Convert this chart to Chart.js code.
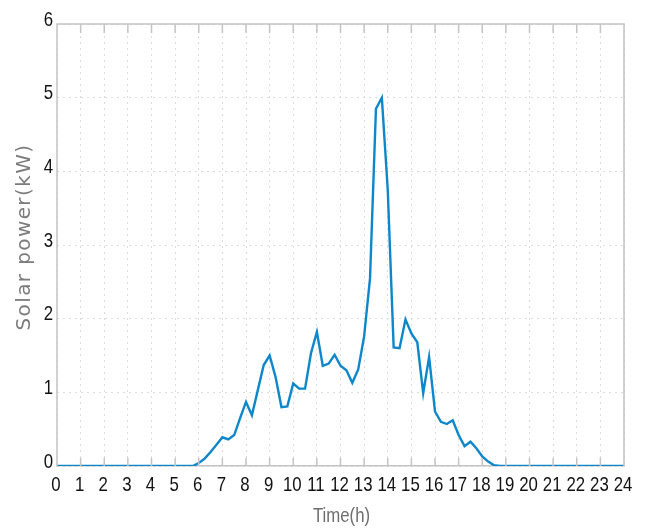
<!DOCTYPE html>
<html>
<head>
<meta charset="utf-8">
<script src="https://cdn.jsdelivr.net/npm/chart.js@4/dist/chart.umd.min.js"></script>
<style>
  html, body { margin: 0; padding: 0; background: #ffffff; }
  #wrap { width: 647px; height: 529px; position: relative; }
</style>
</head>
<body>
<div id="wrap"><canvas id="c"></canvas></div>
<script>
// Solar power output over one day, sampled every 15 minutes (00:00 .. 24:00)
const sampleStepHours = 0.25;
const solarPowerKW = [
  0, 0, 0, 0, 0, 0, 0, 0,             // 0:00 - 1:45
  0, 0, 0, 0, 0, 0, 0, 0,             // 2:00 - 3:45
  0, 0, 0, 0, 0, 0, 0, 0,             // 4:00 - 5:45
  0.04, 0.10, 0.19, 0.29,             // 6:00
  0.39, 0.36, 0.42, 0.65,             // 7:00
  0.87, 0.69, 1.03, 1.37,             // 8:00
  1.50, 1.21, 0.80, 0.81,             // 9:00
  1.12, 1.05, 1.05, 1.53,             // 10:00
  1.82, 1.36, 1.39, 1.51,             // 11:00
  1.36, 1.30, 1.13, 1.31,             // 12:00
  1.76, 2.55, 4.85, 5.00,             // 13:00
  3.75, 1.61, 1.60, 1.99,             // 14:00
  1.80, 1.68, 0.99, 1.48,             // 15:00
  0.74, 0.60, 0.57, 0.62,             // 16:00
  0.42, 0.27, 0.33, 0.24,             // 17:00
  0.13, 0.06, 0.01, 0,                // 18:00
  0, 0, 0, 0, 0, 0, 0, 0,             // 19:00 - 20:45
  0, 0, 0, 0, 0, 0, 0, 0,             // 21:00 - 22:45
  0, 0, 0, 0, 0                       // 23:00 - 24:00
];
const hourTicks = [0,1,2,3,4,5,6,7,8,9,10,11,12,13,14,15,16,17,18,19,20,21,22,23,24];
const powerTicks = [0,1,2,3,4,5,6];
const xTitle = 'Time(h)';
const yTitle = 'Solar power(kW)';

const points = solarPowerKW.map((v, i) => ({ x: i * sampleStepHours, y: v }));

const frameColor = '#c4c4c4';
const gridColor = '#dcdcdc';
const narrowFont = '21px "Liberation Sans", Arial, sans-serif';
const narrowScale = 0.8;   // horizontal squeeze for condensed-looking labels

// Draws text squeezed horizontally around its anchor point
function drawNarrow(ctx, text, x, y, align, color) {
  ctx.save();
  ctx.translate(x, y);
  ctx.scale(narrowScale, 1);
  ctx.font = narrowFont;
  ctx.fillStyle = color;
  ctx.textAlign = align;
  ctx.textBaseline = 'alphabetic';
  ctx.fillText(text, 0, 0);
  ctx.restore();
}

// Box around the plot, short inward tick marks on top/bottom, tick labels and axis titles
const framePlugin = {
  id: 'frame',
  afterDatasetsDraw(chart) {
    const { ctx, chartArea: a, scales } = chart;
    ctx.save();
    ctx.strokeStyle = frameColor;
    ctx.lineWidth = 1.5;
    ctx.beginPath();
    ctx.moveTo(a.left, a.bottom);
    ctx.lineTo(a.left, a.top);
    ctx.lineTo(a.right, a.top);
    ctx.lineTo(a.right, a.bottom);
    ctx.stroke();
    ctx.beginPath();
    hourTicks.forEach(h => {
      if (h === 0 || h === 24) return;
      const px = scales.x.getPixelForValue(h);
      ctx.moveTo(px, a.top);
      ctx.lineTo(px, a.top + 9);
      ctx.moveTo(px, a.bottom);
      ctx.lineTo(px, a.bottom - 8);
    });
    ctx.stroke();
    ctx.restore();

    // tick labels
    hourTicks.forEach(h => {
      const px = scales.x.getPixelForValue(h);
      drawNarrow(ctx, String(h), px - 1, a.bottom + 25, 'center', '#111111');
    });
    powerTicks.forEach(v => {
      const py = scales.y.getPixelForValue(v);
      drawNarrow(ctx, String(v), a.left - 4, py + 1.5, 'right', '#111111');
    });

    // axis titles
    drawNarrow(ctx, xTitle, (a.left + a.right) / 2 + 1, 522, 'center', '#6e6e6e');

    ctx.save();
    ctx.translate(25, 237);
    ctx.rotate(-Math.PI / 2);
    ctx.font = '20px "DejaVu Sans", sans-serif';
    ctx.letterSpacing = '1.4px';
    ctx.fillStyle = '#7c7c7c';
    ctx.textAlign = 'center';
    ctx.textBaseline = 'middle';
    ctx.fillText(yTitle, 0, 0);
    ctx.restore();
  }
};

new Chart(document.getElementById('c'), {
  type: 'line',
  data: {
    datasets: [{
      data: points,
      borderColor: '#0d87c9',
      borderWidth: 2.4,
      pointRadius: 0,
      tension: 0,
      fill: false
    }]
  },
  options: {
    responsive: true,
    maintainAspectRatio: false,
    animation: false,
    layout: { padding: { top: 24, right: 23, left: 0, bottom: 0 } },
    plugins: { legend: { display: false }, tooltip: { enabled: false } },
    scales: {
      x: {
        type: 'linear',
        min: 0, max: 24,
        afterBuildTicks(scale) { scale.ticks = hourTicks.map(v => ({ value: v })); },
        afterFit(scale) { scale.height = 63; },
        ticks: { display: false },
        grid: { color: gridColor, lineWidth: 1, drawTicks: false },
        border: { display: true, color: frameColor, width: 1.5, dash: [2, 4] },
        title: { display: false }
      },
      y: {
        type: 'linear',
        min: 0, max: 6,
        afterBuildTicks(scale) { scale.ticks = powerTicks.map(v => ({ value: v })); },
        afterFit(scale) { scale.width = 57; },
        ticks: { display: false },
        grid: { color: gridColor, lineWidth: 1, drawTicks: false },
        border: { display: false, dash: [2, 4] },
        title: { display: false }
      }
    }
  },
  plugins: [framePlugin]
});
</script>
</body>
</html>
